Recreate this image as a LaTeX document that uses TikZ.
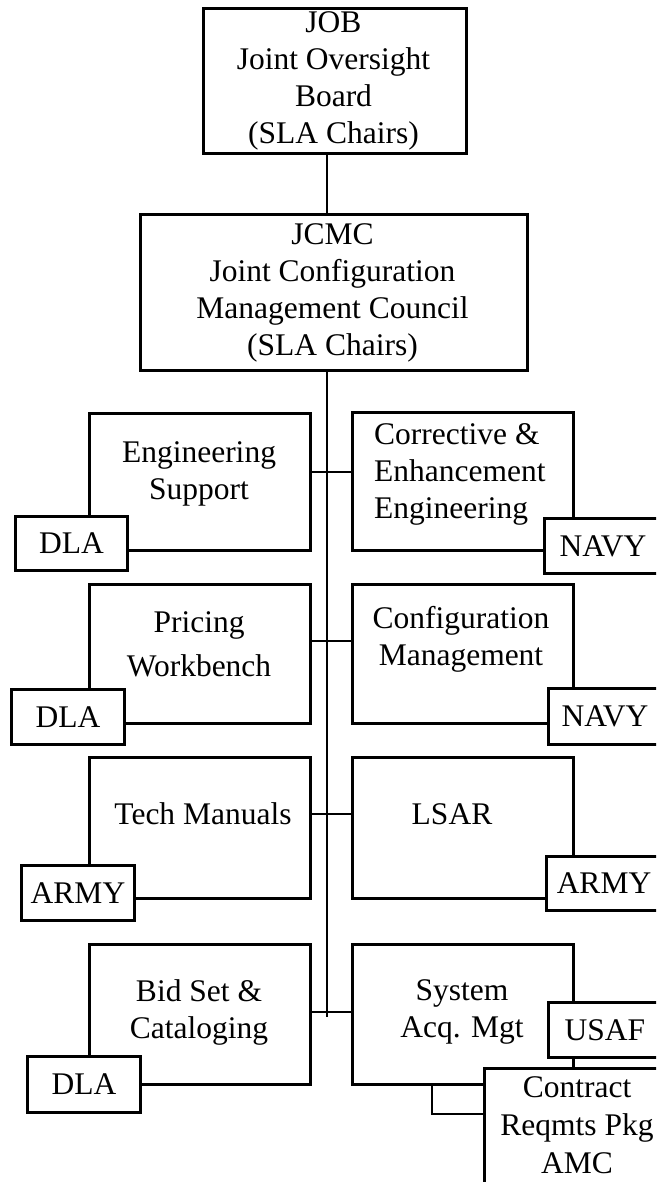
\documentclass[tikz,border=0pt]{standalone}
\usepackage{fontspec}
\setmainfont{Liberation Serif}
\begin{document}
\begin{tikzpicture}[x=1pt,y=-1pt,
  box/.style={draw, line width=3pt, fill=white, anchor=north west, inner sep=0pt,
              font=\fontsize{31.5}{37}\selectfont},
  lbl/.style={align=center, inner sep=0pt, font=\fontsize{31.5}{37}\selectfont},
  conn/.style={line width=2.8pt}]
\useasboundingbox (0,0) rectangle (656,1182);
\fill[white] (0,0) rectangle (656,1182);
\clip (0,0) rectangle (656,1182);

% trunk reference coordinates
\coordinate (t0) at (327,0);
\coordinate (tend) at (327,1017);
\coordinate (j1) at (327,472);
\coordinate (j2) at (327,641);
\coordinate (j3) at (327,814);
\coordinate (j4) at (327,1012);
\coordinate (b1) at (432,1114);

% main boxes
\node[box, minimum width=263pt, minimum height=145pt] (job) at (202,7) {};
\node[box, minimum width=387pt, minimum height=156pt] (jcmc) at (139,213) {};
\node[box, minimum width=221pt, minimum height=137pt] (es) at (88,412) {};
\node[box, minimum width=221pt, minimum height=138pt] (ce) at (351,411) {};
\node[box, minimum width=221pt, minimum height=139pt] (pw) at (88,583) {};
\node[box, minimum width=221pt, minimum height=139pt] (cm) at (351,583) {};
\node[box, minimum width=221pt, minimum height=141pt] (tm) at (88,756) {};
\node[box, minimum width=221pt, minimum height=141pt] (lsar) at (351,756) {};
\node[box, minimum width=221pt, minimum height=140pt] (bs) at (88,943) {};
\node[box, minimum width=221pt, minimum height=140pt] (sam) at (351,943) {};

% connectors
\draw[conn] (job.south -| t0) -- (jcmc.north -| t0);
\draw[conn] (jcmc.south -| t0) -- (tend);
\draw[conn] (es.east |- j1) -- (ce.west |- j1);
\draw[conn] (pw.east |- j2) -- (cm.west |- j2);
\draw[conn] (tm.east |- j3) -- (lsar.west |- j3);
\draw[conn] (bs.east |- j4) -- (sam.west |- j4);

% agency boxes
\node[box, minimum width=112pt, minimum height=54pt] (dla1) at (14,515) {DLA};
\node[box, minimum width=117pt, minimum height=55pt] (navy1) at (543,517) {NAVY};
\node[box, minimum width=113pt, minimum height=55pt] (dla2) at (10,688) {DLA};
\node[box, minimum width=113pt, minimum height=56pt] (navy2) at (547,687) {NAVY};
\node[box, minimum width=113pt, minimum height=55pt] (army1) at (20,864) {ARMY};
\node[box, minimum width=115pt, minimum height=54pt] (army2) at (545,855) {ARMY};
\node[box, minimum width=113pt, minimum height=56pt] (dla3) at (26,1055) {DLA};
\node[box, minimum width=113pt, minimum height=55pt] (usaf) at (547,1001) {USAF};
\node[box, minimum width=200pt, minimum height=150pt] (crp) at (483,1067) {};

% bracket from System Acq. Mgt to Contract Reqmts Pkg
\draw[conn] (b1 |- sam.south) |- (b1 -| crp.west);

% labels
\node[lbl] at (333.5,81) {JOB\\Joint Oversight\\Board\\(SLA Chairs)};
\node[lbl] at (332.5,293) {JCMC\\Joint Configuration\\Management Council\\(SLA Chairs)};
\node[lbl] at (199,474) {Engineering\\Support};
\node[lbl, align=left, anchor=west] at (374,474) {Corrective \&\\Enhancement\\Engineering};
\node[lbl, font=\fontsize{31.5}{44}\selectfont] at (199,644) {Pricing\\Workbench};
\node[lbl] at (461,639) {Configuration\\Management};
\node[lbl] at (203,814) {Tech Manuals};
\node[lbl] at (452,814) {LSAR};
\node[lbl] at (199,1012) {Bid Set \&\\Cataloging};
\node[lbl] at (462,1012) {System\\Acq. Mgt};
\node[lbl, font=\fontsize{31.5}{38}\selectfont] at (577,1125) {Contract\\Reqmts Pkg\\AMC};
\end{tikzpicture}
\end{document}
